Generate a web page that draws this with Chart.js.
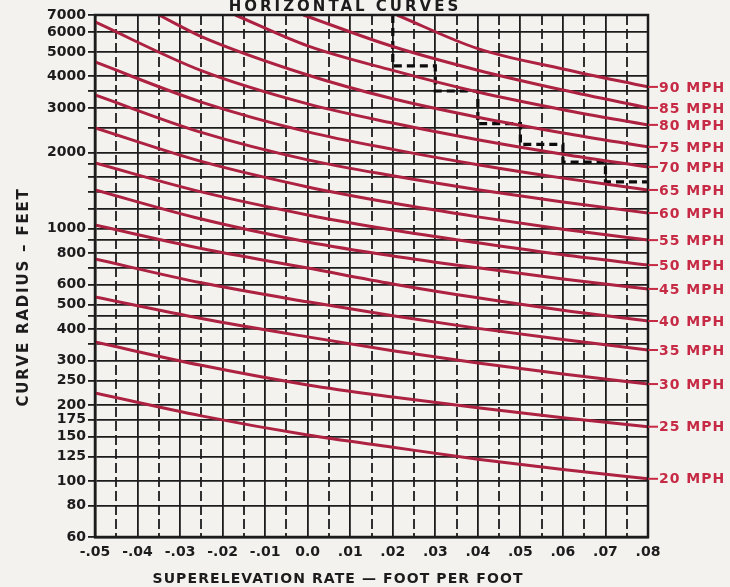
<!DOCTYPE html>
<html>
<head>
<meta charset="utf-8">
<script src="https://cdn.jsdelivr.net/npm/chart.js@4.4.1/dist/chart.umd.min.js"></script>
<style>
body{margin:0;background:#f3f2ef}
canvas{display:block}
</style>
</head>
<body>
<canvas id="c" width="730" height="587"></canvas>
<script>
// speeds of the red curves, mph
const speeds=[20,25,30,35,40,45,50,55,60,65,70,75,80,85,90]

// superelevation rate where the curves are read
const eRate=[-0.05,-0.025,0,0.02,0.04,0.06,0.08]

// curve radius, feet
const r20=[223,181,152,136,122,111,102]
const r25=[355,287,240,215,195,178,164]
const r30=[535,440,372,328,293,265,242]
const r35=[757,609,512,451,402,363,330]
const r40=[1032,833,697,603,531,474,430]
const r45=[1420,1089,884,778,698,631,576]
const r50=[1816,1395,1131,986,877,786,716]
const r55=[2500,1842,1460,1260,1111,993,899]
const r60=[3376,2400,1868,1616,1424,1273,1151]
const r65=[4560,3165,2412,2056,1788,1582,1420]
const r70=[6570,4215,3112,2613,2245,1968,1752]

// the fast ones come in from the top
const e75=[-0.035,-0.025,0,0.02,0.04,0.06,0.08]
const r75=[7000,5750,4050,3261,2757,2389,2103]
const e80=[-0.017,0,0.02,0.04,0.06,0.08]
const r80=[7000,5282,4224,3469,2953,2570]
const e85=[-0.001,0.02,0.04,0.06,0.08]
const r85=[7000,5250,4230,3530,3000]
const e90=[0.021,0.04,0.06,0.08]
const r90=[7000,5150,4280,3634]

// dashed step line
const stepE=[0.02,0.02,0.03,0.03,0.04,0.04,0.05,0.05,0.06,0.06,0.07,0.07,0.08]
const stepR=[7000,4400,4400,3500,3500,2600,2600,2150,2150,1830,1830,1530,1530]

// axes
const xTicks=[-0.05,-0.04,-0.03,-0.02,-0.01,0,0.01,0.02,0.03,0.04,0.05,0.06,0.07,0.08]
const xHalf=[-0.045,-0.035,-0.025,-0.015,-0.005,0.005,0.015,0.025,0.035,0.045,0.055,0.065,0.075]
const yGrid=[60,80,100,125,150,175,200,250,300,350,400,450,500,600,700,800,900,1000,1200,1400,1600,1800,2000,2500,3000,3500,4000,5000,6000,7000]
const yLabels=[60,80,100,125,150,175,200,250,300,400,500,600,800,1000,2000,3000,4000,5000,6000,7000]

const curveE=[eRate,eRate,eRate,eRate,eRate,eRate,eRate,eRate,eRate,eRate,eRate,e75,e80,e85,e90]
const curveR=[r20,r25,r30,r35,r40,r45,r50,r55,r60,r65,r70,r75,r80,r85,r90]

const INK="#1c1c1c"
const RED="#ad2141"
const LABELRED="#c62a44"

let datasets=speeds.map((s,i)=>({
label:s+" MPH",
data:curveE[i].map((e,j)=>({x:e,y:curveR[i][j]})),
borderColor:RED,
borderWidth:3,
pointRadius:0,
cubicInterpolationMode:"monotone",
fill:false
}))

datasets.push({
label:"step",
data:stepE.map((e,j)=>({x:e,y:stepR[j]})),
borderColor:"#0c0c0c",
borderWidth:3.2,
borderDash:[8,5],
pointRadius:0,
tension:0,
fill:false
})

const deco={
id:"deco",
beforeDraw(chart){
const ctx=chart.ctx
ctx.save()
ctx.fillStyle="#f3f2ef"
ctx.fillRect(0,0,chart.width,chart.height)
ctx.restore()
},
beforeDatasetsDraw(chart){
const ctx=chart.ctx
const a=chart.chartArea
const xs=chart.scales.x
ctx.save()
ctx.strokeStyle=INK
ctx.lineWidth=1.8
ctx.setLineDash([10,4])
xHalf.forEach(v=>{
let px=Math.round(xs.getPixelForValue(v))
ctx.beginPath()
ctx.moveTo(px,a.top)
ctx.lineTo(px,a.bottom)
ctx.stroke()
})
ctx.restore()
},
afterDraw(chart){
const ctx=chart.ctx
const a=chart.chartArea
ctx.save()
ctx.strokeStyle=INK
ctx.lineWidth=2.5
ctx.strokeRect(a.left,a.top,a.right-a.left,a.bottom-a.top)

// speed labels at the right ends
ctx.font="bold 14px 'DejaVu Sans'"
ctx.letterSpacing="1px"
ctx.textBaseline="middle"
ctx.textAlign="left"
speeds.forEach((s,i)=>{
let pts=chart.getDatasetMeta(i).data
let p=pts[pts.length-1]
ctx.strokeStyle=LABELRED
ctx.lineWidth=2
ctx.beginPath()
ctx.moveTo(a.right,p.y)
ctx.lineTo(a.right+10,p.y)
ctx.stroke()
ctx.fillStyle=LABELRED
ctx.fillText(s+" MPH",a.right+11,p.y+1)
})

// titles
ctx.fillStyle=INK
ctx.textAlign="center"
ctx.textBaseline="alphabetic"
ctx.font="bold 15px 'DejaVu Sans'"
ctx.letterSpacing="3px"
ctx.fillText("HORIZONTAL CURVES",345,11)

ctx.font="bold 14px 'DejaVu Sans'"
ctx.letterSpacing="1.1px"
ctx.fillText("SUPERELEVATION RATE — FOOT PER FOOT",338,583)

ctx.translate(28,297)
ctx.rotate(-Math.PI/2)
ctx.font="bold 15px 'DejaVu Sans'"
ctx.letterSpacing="1.8px"
ctx.fillText("CURVE RADIUS – FEET",0,0)
ctx.restore()
}
}

new Chart(document.getElementById("c"),{
type:"line",
data:{datasets:datasets},
options:{
responsive:false,
animation:false,
devicePixelRatio:1,
layout:{padding:{top:15,right:82,left:0,bottom:0}},
plugins:{legend:{display:false},tooltip:{enabled:false}},
scales:{
x:{
type:"linear",
min:-0.05,
max:0.08,
afterBuildTicks:s=>{s.ticks=xTicks.map(v=>({value:v}))},
afterFit:s=>{s.height=50},
ticks:{
color:INK,
font:{family:"DejaVu Sans",size:14,weight:"bold"},
padding:7,
autoSkip:false,
maxRotation:0,
callback:v=>{
let n=Math.round(v*100)
if(n==0) return "0.0"
return (n<0?"-":"")+".0"+Math.abs(n)
}
},
grid:{color:INK,lineWidth:1.8,drawTicks:false},
border:{color:INK,width:2.5}
},
y:{
type:"logarithmic",
min:60,
max:7000,
afterBuildTicks:s=>{s.ticks=yGrid.map(v=>({value:v}))},
afterFit:s=>{s.width=95},
ticks:{
color:INK,
font:{family:"DejaVu Sans",size:14,weight:"bold"},
padding:2,
autoSkip:false,
callback:v=>yLabels.includes(v)?String(v):""
},
grid:{color:INK,lineWidth:1.8,tickLength:7,tickColor:INK,tickWidth:1.8},
border:{color:INK,width:2.5}
}
}
},
plugins:[deco]
})
</script>
</body>
</html>
